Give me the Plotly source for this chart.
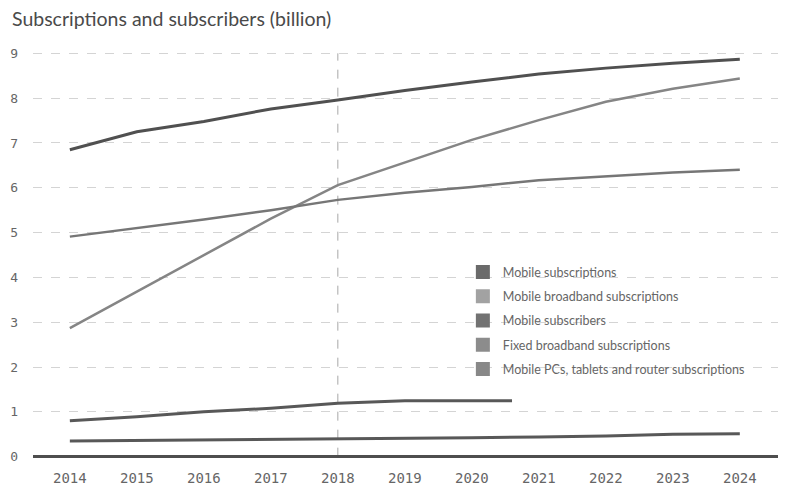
import plotly.graph_objects as go

# Years and series (billion)
years = [2014, 2015, 2016, 2017, 2018, 2019, 2020, 2021, 2022, 2023, 2024]
mobile_subscriptions = [6.85, 7.25, 7.48, 7.76, 7.96, 8.17, 8.36, 8.54, 8.67, 8.78, 8.87]
mobile_broadband = [2.87, 3.68, 4.49, 5.31, 6.06, 6.57, 7.07, 7.51, 7.92, 8.21, 8.44]
mobile_subscribers = [4.91, 5.10, 5.29, 5.50, 5.73, 5.89, 6.02, 6.17, 6.26, 6.34, 6.40]
fixed_years = [2014, 2015, 2016, 2017, 2018, 2019, 2020, 2020.6]
fixed_broadband = [0.80, 0.89, 1.00, 1.08, 1.19, 1.25, 1.25, 1.25]
mobile_pcs = [0.35, 0.36, 0.37, 0.38, 0.40, 0.41, 0.42, 0.44, 0.46, 0.50, 0.51]

series = [
    ("Mobile subscriptions", years, mobile_subscriptions, "#505050", "#6a6a6a", 3.0),
    ("Mobile broadband subscriptions", years, mobile_broadband, "#858585", "#a2a2a2", 2.5),
    ("Mobile subscribers", years, mobile_subscribers, "#767676", "#727272", 2.5),
    ("Fixed broadband subscriptions", fixed_years, fixed_broadband, "#585858", "#8c8c8c", 3.0),
    ("Mobile PCs, tablets and router subscriptions", years, mobile_pcs, "#585858", "#888888", 3.0),
]

fig = go.Figure()

for name, xs, ys, line_col, swatch_col, w in series:
    fig.add_trace(go.Scatter(
        x=xs, y=ys, mode="lines", name=name, showlegend=False,
        line=dict(color=line_col, width=w), hoverinfo="skip",
    ))

# Square swatches for the legend
for i, (name, xs, ys, line_col, swatch_col, w) in enumerate(series):
    fig.add_trace(go.Scatter(
        x=[None], y=[None], mode="markers", name=name, legendgroup=f"g{i}",
        marker=dict(symbol="square", size=14, color=swatch_col),
    ))

# Reference year marker
fig.add_shape(type="line", x0=2018, x1=2018, y0=0, y1=9, xref="x", yref="y",
              line=dict(color="#a8a8a8", width=1, dash="dash"), layer="below")

fig.update_layout(
    width=807, height=488,
    margin=dict(l=33, r=29, t=52, b=30, autoexpand=False),
    paper_bgcolor="white", plot_bgcolor="white",
    font=dict(family="DejaVu Sans Mono", color="#666666", size=12),
    title=dict(
        text="Subscriptions and subscribers (billion)",
        x=12 / 807, xref="container", xanchor="left", y=0.961, yanchor="middle",
        pad=dict(l=0),
        font=dict(family="Lato", size=19.5, color="#4a4a4a"),
    ),
    showlegend=True,
    legend=dict(
        x=0.577, xanchor="left", y=0.494, yanchor="top",
        bgcolor="rgba(0,0,0,0)", borderwidth=0,
        tracegroupgap=5,
        font=dict(family="Lato", size=12.5, color="#666666"),
    ),
    xaxis=dict(
        range=[2013.45, 2024.57], automargin=False,
        tickvals=years, ticktext=[str(y) for y in years],
        showgrid=False, zeroline=False, showline=False,
        ticks="", ticklabelstandoff=10,
        tickfont=dict(family="DejaVu Sans Mono", size=14, color="#666666"),
    ),
    yaxis=dict(
        range=[-0.03, 9.03], automargin=False,
        tickvals=list(range(0, 10)),
        showgrid=True, gridcolor="#d4d4d4", griddash="dash", gridwidth=1,
        zeroline=True, zerolinecolor="#4e4e4e", zerolinewidth=2.5,
        showline=False, ticks="", ticklabelstandoff=14,
        tickfont=dict(family="DejaVu Sans Mono", size=13, color="#666666"),
    ),
)

fig.write_html("out.html")
